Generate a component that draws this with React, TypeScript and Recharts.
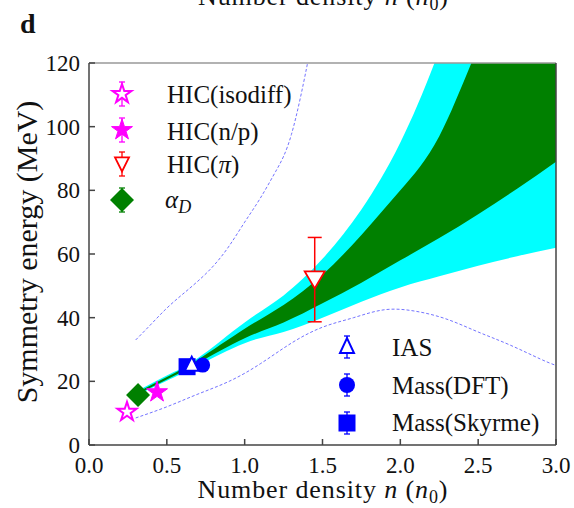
import { ComposedChart, Area, Line, Scatter, XAxis, YAxis, ReferenceLine, ErrorBar } from 'recharts'

const FONT = "'Liberation Serif', 'Times New Roman', serif"
const MAGENTA = '#ff00ff'
const BLUE = '#0000ff'
const RED = '#ff0000'
const GREEN = '#008000'
const CYAN = '#00ffff'
const DASH = '#7373ff'

// constraint bands
const bandN = [0.3, 0.5, 0.7, 1.0, 1.25, 1.5, 1.75, 2.0, 2.25, 2.5, 2.75, 3.0]
const cyanLow = [15.4, 20.2, 25, 32, 35.5, 40, 45, 49.5, 53, 56.3, 59.3, 62]
const cyanHigh = [16.6, 21.8, 27.3, 38.5, 47, 58.5, 74, 95, 124, 160, 200, 245]
const greenLow = [15.7, 20.6, 25.7, 33.5, 38.5, 44.5, 51, 58, 65, 72.5, 80.5, 89]
const greenHigh = [16.3, 21.4, 26.8, 36.5, 44, 53.5, 66, 80, 97, 125, 152, 185]

// dashed envelope curves
const upperN = [0.3, 0.4, 0.5, 0.6, 0.7, 0.8, 0.9, 1.0, 1.1, 1.2, 1.3, 1.4, 1.45]
const upperE = [33, 38, 43, 47.3, 51.5, 56.3, 62.5, 70, 77.5, 86, 97.5, 119, 132]
const lowerN = [0.3, 0.5, 0.7, 0.9, 1.1, 1.3, 1.5, 1.7, 1.9, 2.1, 2.3, 2.5, 2.7, 2.9, 3.0]
const lowerE = [8.5, 12, 16, 20, 25.5, 32, 37, 40, 42.5, 42, 39.5, 35.5, 31.5, 27, 25]

// measurements
const isodiff = [{ n: 0.244, e: 10.4 }]
const nOverP = [{ n: 0.437, e: 16.6 }]
const pion = [{ n: 1.45, e: 52.4, err: [13.7, 12.8] }]
const alphaD = [{ n: 0.315, e: 15.7 }]
const ias = [{ n: 0.66, e: 25.1 }]
const massDFT = [{ n: 0.73, e: 25.1 }]
const massSkyrme = [{ n: 0.63, e: 24.6 }]

const xTicks = [0, 0.5, 1, 1.5, 2, 2.5, 3]
const yTicks = [0, 20, 40, 60, 80, 100, 120]

const bandRows = bandN.map((n, i) => ({ n, cyan: [cyanLow[i], cyanHigh[i]], green: [greenLow[i], greenHigh[i]] }))
const upperRows = upperN.map((n, i) => ({ n, e: upperE[i] }))
const lowerRows = lowerN.map((n, i) => ({ n, e: lowerE[i] }))

function starPath(cx: number, cy: number, R: number) {
  const r = R * 0.382
  let d = ''
  for (let i = 0; i < 10; i++) {
    const a = -Math.PI / 2 + (i * Math.PI) / 5
    const rad = i % 2 === 0 ? R : r
    d += (i === 0 ? 'M' : 'L') + (cx + rad * Math.cos(a)).toFixed(2) + ',' + (cy + rad * Math.sin(a)).toFixed(2)
  }
  return d + 'Z'
}

function OpenStar({ cx, cy, R = 10 }: any) {
  return <path d={starPath(cx, cy, R)} fill="#fff" stroke={MAGENTA} strokeWidth={2} />
}
function FilledStar({ cx, cy, R = 11 }: any) {
  return <path d={starPath(cx, cy, R)} fill={MAGENTA} stroke={MAGENTA} strokeWidth={1} />
}
function DownTri({ cx, cy, w = 10, h = 17 }: any) {
  return <path d={`M${cx - w},${cy - h * 0.4}L${cx + w},${cy - h * 0.4}L${cx},${cy + h * 0.6}Z`} fill="#fff" stroke={RED} strokeWidth={1.8} />
}
function UpTri({ cx, cy, w = 7, h = 13 }: any) {
  return <path d={`M${cx - w},${cy + h * 0.4}L${cx + w},${cy + h * 0.4}L${cx},${cy - h * 0.6}Z`} fill="#fff" stroke={BLUE} strokeWidth={2} />
}
function Diamond({ cx, cy, r = 12 }: any) {
  return <path d={`M${cx},${cy - r}L${cx + r},${cy}L${cx},${cy + r}L${cx - r},${cy}Z`} fill={GREEN} />
}
function Dot({ cx, cy, r = 8 }: any) {
  return <circle cx={cx} cy={cy} r={r} fill={BLUE} />
}
function Square({ cx, cy, s = 8.5 }: any) {
  return <rect x={cx - s} y={cy - s} width={2 * s} height={2 * s} fill={BLUE} />
}

function ErrTick({ x, y, h = 12, color }: any) {
  return (
    <g stroke={color} strokeWidth={1.3}>
      <line x1={x} y1={y - h} x2={x} y2={y + h} />
      <line x1={x - 3} y1={y - h} x2={x + 3} y2={y - h} />
      <line x1={x - 3} y1={y + h} x2={x + 3} y2={y + h} />
    </g>
  )
}

function XTitle(props: any) {
  const vb = props.viewBox ?? { x: 89, y: 445, width: 467, height: 40 }
  return <MathTitle x={vb.x + vb.width / 2} y={vb.y + 53} />
}

function MathTitle({ x, y }: { x: number; y: number }) {
  return (
    <text x={x} y={y} textAnchor="middle" fontFamily={FONT} fontSize={26} fill="#111" textLength={250} lengthAdjust="spacing">
      Number density <tspan fontStyle="italic">n</tspan> (<tspan fontStyle="italic">n</tspan>
      <tspan fontSize={18} dy={5}>0</tspan>
      <tspan dy={-5}>)</tspan>
    </text>
  )
}

function YTitle(props: any) {
  const vb = props.viewBox ?? { x: 29, y: 63, width: 60, height: 382 }
  const x = vb.x + 8
  const y = vb.y + vb.height / 2 - 2
  return (
    <text x={x} y={y} transform={`rotate(-90 ${x} ${y})`} textAnchor="middle" fontFamily={FONT} fontSize={30} fill="#111">
      Symmetry energy (MeV)
    </text>
  )
}

function Overlay() {
  const t = { fontFamily: FONT, fontSize: 25, fill: '#111' }
  return (
    <svg width={574} height={508} style={{ position: 'absolute', left: 0, top: 0, pointerEvents: 'none' }}>
      <MathTitle x={323} y={5} />
      <text x={20} y={33} fontFamily={FONT} fontSize={28} fontWeight="bold" fill="#111">d</text>

      <ErrTick x={122} y={94} color={MAGENTA} />
      <OpenStar cx={122} cy={94} />
      <text x={167} y={103} {...t}>HIC(isodiff)</text>

      <ErrTick x={122} y={130} color={MAGENTA} />
      <FilledStar cx={122} cy={130} />
      <text x={167} y={140} {...t}>HIC(n/p)</text>

      <ErrTick x={122} y={164} color={RED} />
      <DownTri cx={122} cy={163} w={7} h={14} />
      <text x={167} y={173} {...t}>HIC(<tspan fontStyle="italic">π</tspan>)</text>

      <ErrTick x={122} y={200} color={GREEN} />
      <Diamond cx={122} cy={200} />
      <text x={165} y={208} {...t} fontStyle="italic">α<tspan fontSize={18} dy={5}>D</tspan></text>

      <ErrTick x={347} y={347} h={11} color={BLUE} />
      <UpTri cx={347} cy={347} w={7} h={15} />
      <text x={392} y={356} {...t}>IAS</text>

      <ErrTick x={347} y={385} h={11} color={BLUE} />
      <Dot cx={347} cy={385} />
      <text x={392} y={394} {...t}>Mass(DFT)</text>

      <ErrTick x={347} y={423} h={11} color={BLUE} />
      <Square cx={347} cy={423} />
      <text x={392} y={431} {...t}>Mass(Skyrme)</text>
    </svg>
  )
}

export default function App() {
  return (
    <div style={{ position: 'absolute', left: 0, top: 0, width: 574, height: 508, background: '#fff' }}>
      <ComposedChart width={574} height={508} margin={{ top: 63, right: 18, bottom: 23, left: 29 }}>
        <XAxis
          dataKey="n"
          type="number"
          domain={[0, 3]}
          ticks={xTicks}
          allowDataOverflow
          tickFormatter={(v: number) => v.toFixed(1)}
          tickSize={-6}
          tickMargin={18}
          height={40}
          stroke="#444"
          strokeWidth={1.5}
          tick={{ fill: '#111', fontSize: 23, fontFamily: FONT }}
          label={{ content: (p: any) => <XTitle {...p} /> }}
        />
        <YAxis
          dataKey="e"
          type="number"
          domain={[0, 120]}
          ticks={yTicks}
          allowDataOverflow
          tickSize={-6}
          tickMargin={15}
          width={60}
          stroke="#444"
          strokeWidth={1.5}
          tick={{ fill: '#111', fontSize: 23, fontFamily: FONT }}
          label={{ content: (p: any) => <YTitle {...p} /> }}
        />
        <ReferenceLine y={120} stroke="#999" strokeWidth={1.5} />
        <ReferenceLine x={3} stroke="#444" strokeWidth={1.5} />

        <Area data={bandRows} dataKey="cyan" type="natural" fill={CYAN} fillOpacity={1} stroke="none" isAnimationActive={false} />
        <Area data={bandRows} dataKey="green" type="natural" fill={GREEN} fillOpacity={1} stroke="none" isAnimationActive={false} />

        <Line data={upperRows} dataKey="e" type="natural" stroke={DASH} strokeWidth={1} strokeDasharray="3 2" dot={false} isAnimationActive={false} />
        <Line data={lowerRows} dataKey="e" type="natural" stroke={DASH} strokeWidth={1} strokeDasharray="3 2" dot={false} isAnimationActive={false} />

        <Scatter data={isodiff} dataKey="e" isAnimationActive={false} shape={(p: any) => <OpenStar cx={p.cx} cy={p.cy} />} />
        <Scatter data={nOverP} dataKey="e" isAnimationActive={false} shape={(p: any) => <FilledStar cx={p.cx} cy={p.cy} />} />
        <Scatter data={alphaD} dataKey="e" isAnimationActive={false} shape={(p: any) => <Diamond cx={p.cx} cy={p.cy} />} />
        <Scatter data={pion} dataKey="e" isAnimationActive={false} shape={(p: any) => <DownTri cx={p.cx} cy={p.cy} />}>
          <ErrorBar dataKey="err" direction="y" width={7} stroke={RED} strokeWidth={1.5} />
        </Scatter>
        <Scatter data={massSkyrme} dataKey="e" isAnimationActive={false} shape={(p: any) => <Square cx={p.cx} cy={p.cy} />} />
        <Scatter data={massDFT} dataKey="e" isAnimationActive={false} shape={(p: any) => <Dot cx={p.cx} cy={p.cy} r={7.5} />} />
        <Scatter data={ias} dataKey="e" isAnimationActive={false} shape={(p: any) => <UpTri cx={p.cx} cy={p.cy} w={7} h={14} />} />
      </ComposedChart>
      <Overlay />
    </div>
  )
}
